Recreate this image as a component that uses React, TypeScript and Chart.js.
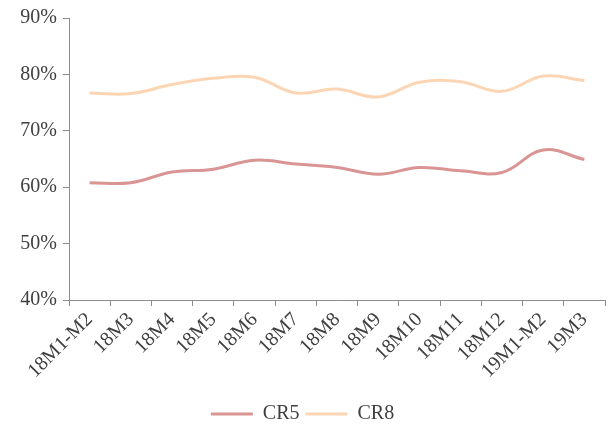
import React, { useEffect, useRef } from "react";
import { Chart, registerables } from "chart.js";

Chart.register(...registerables);

const categories = ["18M1-M2", "18M3", "18M4", "18M5", "18M6", "18M7", "18M8", "18M9", "18M10", "18M11", "18M12", "19M1-M2", "19M3"];
const cr5 = [60.8, 60.8, 62.7, 63.2, 64.8, 64.1, 63.5, 62.3, 63.5, 62.9, 62.6, 66.6, 64.9];
const cr8 = [76.7, 76.6, 78.2, 79.3, 79.5, 76.7, 77.4, 76.0, 78.6, 78.7, 77.0, 79.7, 78.9];
const yTicks = [40, 50, 60, 70, 80, 90];

const FONT = "'Liberation Serif', 'Times New Roman', serif";
const TEXT = "#404040";
const AXIS = "#8c8c8c";

export default function App() {
  const ref = useRef<HTMLCanvasElement | null>(null);
  useEffect(() => {
    if (!ref.current) return;
    const chart = new Chart(ref.current, {
      type: "line",
      data: {
        labels: categories,
        datasets: [
          { label: "CR5", data: cr5, borderColor: "#d99594", backgroundColor: "#d99594", borderWidth: 3, pointRadius: 0, tension: 0.4, fill: false },
          { label: "CR8", data: cr8, borderColor: "#fcd5b4", backgroundColor: "#fcd5b4", borderWidth: 3, pointRadius: 0, tension: 0.4, fill: false },
        ],
      },
      options: {
        animation: false,
        responsive: false,
        maintainAspectRatio: false,
        layout: { padding: { left: 0, right: 3, top: 4, bottom: -4 } },
        plugins: {
          tooltip: { enabled: false },
          legend: {
            position: "bottom",
            labels: {
              font: { family: FONT, size: 20 },
              color: TEXT,
              boxWidth: 42,
              boxHeight: 3,
              padding: 6,
              generateLabels: (c: any) => {
                const items = Chart.defaults.plugins.legend.labels.generateLabels(c);
                return items.map((it: any) => ({ ...it, lineWidth: 0 }));
              },
            },
          },
        },
        scales: {
          x: {
            offset: true,
            grid: { offset: true, drawOnChartArea: false, tickLength: 6, color: AXIS },
            border: { color: AXIS, width: 1 },
            ticks: { font: { family: FONT, size: 20 }, color: TEXT, minRotation: 45, maxRotation: 45, autoSkip: false, padding: 2 },
            afterFit: (s: any) => { s.height = 98; },
          },
          y: {
            min: 40,
            max: 90,
            afterBuildTicks: (s: any) => { s.ticks = yTicks.map((v) => ({ value: v })); },
            grid: { drawOnChartArea: false, tickLength: 6, color: AXIS },
            border: { color: AXIS, width: 1 },
            ticks: { font: { family: FONT, size: 20 }, color: TEXT, padding: 6, callback: (v: any) => v + "%" },
            afterFit: (s: any) => { s.width = 69; },
          },
        },
      },
    });
    return () => chart.destroy();
  }, []);
  return (
    <div style={{ position: "absolute", left: 0, top: 0, width: 608, height: 430, background: "#fff" }}>
      <canvas ref={ref} width={608} height={430} style={{ width: 608, height: 430 }} />
    </div>
  );
}
